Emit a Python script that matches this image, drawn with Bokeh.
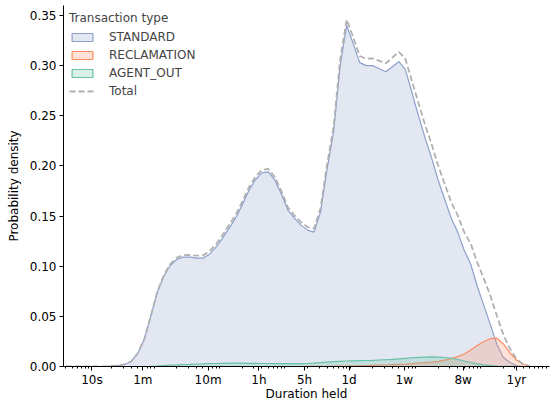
import numpy as np
from bokeh.plotting import figure
from bokeh.models import Range1d, FixedTicker, NumeralTickFormatter, Legend, LegendItem
from bokeh.embed import file_html
from bokeh.resources import INLINE

# evaluation grid: log10(duration in seconds)
log_duration = [0.6, 0.7, 0.8, 0.9,
                1.0, 1.1, 1.2, 1.3, 1.4, 1.5, 1.6, 1.7, 1.8, 1.9,
                2.0, 2.1, 2.2, 2.3, 2.4, 2.5, 2.6, 2.7, 2.8, 2.9,
                3.0, 3.1, 3.2, 3.3, 3.4, 3.5, 3.6, 3.7, 3.8, 3.9,
                4.0, 4.1, 4.2, 4.3, 4.4, 4.5, 4.6, 4.7, 4.8, 4.9,
                5.0, 5.1, 5.2, 5.3, 5.4, 5.5, 5.6, 5.7, 5.8, 5.9,
                6.0, 6.1, 6.2, 6.3, 6.4, 6.5, 6.6, 6.7, 6.8, 6.9,
                7.0, 7.1, 7.2, 7.3, 7.4, 7.5, 7.6, 7.7]

standard = [0.0, 0.0, 0.0, 0.0,
            0.0, 0.0, 0.0, 0.0005, 0.001, 0.002, 0.005, 0.013, 0.027, 0.050,
            0.074, 0.090, 0.101, 0.107, 0.109, 0.109, 0.108, 0.108, 0.112, 0.119,
            0.128, 0.138, 0.148, 0.161, 0.175, 0.186, 0.193, 0.194, 0.186, 0.172,
            0.156, 0.148, 0.141, 0.136, 0.134, 0.154, 0.197, 0.234, 0.300, 0.340,
            0.322, 0.303, 0.300, 0.300, 0.297, 0.294, 0.299, 0.304, 0.296, 0.273,
            0.250, 0.228, 0.208, 0.186, 0.167, 0.148, 0.134, 0.116, 0.102, 0.080,
            0.061, 0.042, 0.022, 0.009, 0.004, 0.001, 0.0, 0.0]

reclamation = [0.0, 0.0, 0.0, 0.0,
               0.0, 0.0, 0.0, 0.0, 0.0, 0.0, 0.0, 0.0, 0.0, 0.0,
               0.0, 0.0, 0.0, 0.0, 0.0, 0.0, 0.0, 0.0, 0.0, 0.0,
               0.0, 0.0, 0.0, 0.0, 0.0, 0.0, 0.0, 0.0, 0.0, 0.0,
               0.0, 0.0, 0.0, 0.0001, 0.0001, 0.0001, 0.0002, 0.0003, 0.0004, 0.0005,
               0.0006, 0.0007, 0.0009, 0.0011, 0.0013, 0.0015, 0.0018, 0.0021, 0.0024, 0.0028,
               0.0033, 0.0038, 0.0044, 0.0052, 0.0063, 0.0078, 0.0098, 0.0125, 0.0165, 0.021,
               0.025, 0.0277, 0.0282, 0.0225, 0.0135, 0.0065, 0.0025, 0.0005]

agent_out = [0.0, 0.0, 0.0, 0.0,
             0.0, 0.0, 0.0, 0.0, 0.0, 0.0, 0.0, 0.0, 0.0, 0.0002,
             0.0005, 0.001, 0.0013, 0.0016, 0.002, 0.0022, 0.0025, 0.0027, 0.003, 0.003,
             0.0032, 0.0033, 0.0033, 0.0033, 0.0032, 0.0031, 0.003, 0.003, 0.0029, 0.0028,
             0.0028, 0.0028, 0.0029, 0.003, 0.0033, 0.0038, 0.0043, 0.0048, 0.0052, 0.0055,
             0.0057, 0.0059, 0.006, 0.0062, 0.0065, 0.0068, 0.0072, 0.0077, 0.0082, 0.0087,
             0.0091, 0.0094, 0.0095, 0.0094, 0.009, 0.0082, 0.007, 0.0055, 0.004, 0.0027,
             0.0016, 0.0009, 0.0004, 0.0002, 0.0001, 0.0, 0.0, 0.0]

series_names = ["STANDARD", "RECLAMATION", "AGENT_OUT"]
series_colors = ["#8da0cb", "#fc8d62", "#66c2a5"]

tick_seconds = [10, 60, 600, 3600, 18000, 86400, 604800, 4838400, 31536000]
tick_labels = ["10s", "1m", "10m", "1h", "5h", "1d", "1w", "8w", "1yr"]
y_ticks = [0.0, 0.05, 0.10, 0.15, 0.20, 0.25, 0.30, 0.35]

FONT = "DejaVu Sans"

x = 10 ** np.array(log_duration)
total = np.array(standard) + np.array(reclamation) + np.array(agent_out)

p = figure(width=551, height=404, x_axis_type="log",
           x_range=Range1d(10 ** 0.564, 10 ** 8.006), y_range=Range1d(0, 0.36),
           output_backend="svg", toolbar_location=None,
           min_border_left=63, min_border_right=2, min_border_top=5, min_border_bottom=38)
p.outline_line_color = None
p.xgrid.visible = False
p.ygrid.visible = False
p.background_fill_color = "white"
p.border_fill_color = "white"

items = []
for name, color, vals in zip(series_names, series_colors, [standard, reclamation, agent_out]):
    px = np.concatenate([x, x[::-1]])
    py = np.concatenate([np.array(vals), np.zeros(len(vals))])
    r = p.patch(px, py, fill_color=color, fill_alpha=0.25, line_color=color, line_width=1.2)
    items.append(LegendItem(label=name, renderers=[r]))

rt = p.line(x, total, line_color="#b0b0b0", line_width=1.8, line_dash="6 3")
items.append(LegendItem(label="Total", renderers=[rt]))

minor = [m * 10 ** k for k in range(0, 8) for m in range(2, 10)]
p.xaxis.ticker = FixedTicker(ticks=tick_seconds, minor_ticks=minor)
p.xaxis.major_label_overrides = {t: lab for t, lab in zip(tick_seconds, tick_labels)}
p.yaxis.ticker = FixedTicker(ticks=y_ticks, minor_ticks=[])
p.yaxis.formatter = NumeralTickFormatter(format="0.00")

for ax in (p.xaxis, p.yaxis):
    ax.axis_line_color = "black"
    ax.axis_line_width = 1
    ax.major_tick_line_color = "black"
    ax.minor_tick_line_color = "black"
    ax.major_tick_in = 0
    ax.major_tick_out = 4
    ax.minor_tick_in = 0
    ax.minor_tick_out = 2
    ax.major_label_text_font = FONT
    ax.major_label_text_font_size = "12px"
    ax.major_label_text_color = "black"
    ax.axis_label_text_font = FONT
    ax.axis_label_text_font_size = "12px"
    ax.axis_label_text_font_style = "normal"
    ax.axis_label_text_color = "black"
    ax.major_label_standoff = 3

p.xaxis.major_label_standoff = 2
p.xaxis.axis_label_standoff = -3
p.xaxis.axis_label = "Duration held"
p.yaxis.axis_label = "Probability density"
p.yaxis.axis_label_standoff = 6

legend = Legend(items=items, location="top_left", title="Transaction type",
                title_text_font=FONT, title_text_font_size="12px", title_text_font_style="normal",
                label_text_font=FONT, label_text_font_size="12px",
                glyph_width=26, glyph_height=10, label_height=14, spacing=4,
                label_standoff=14, margin=6, padding=6, title_standoff=5,
                border_line_color=None, background_fill_alpha=0.0)
p.add_layout(legend)

open("out.html", "w").write(file_html(p, INLINE))
